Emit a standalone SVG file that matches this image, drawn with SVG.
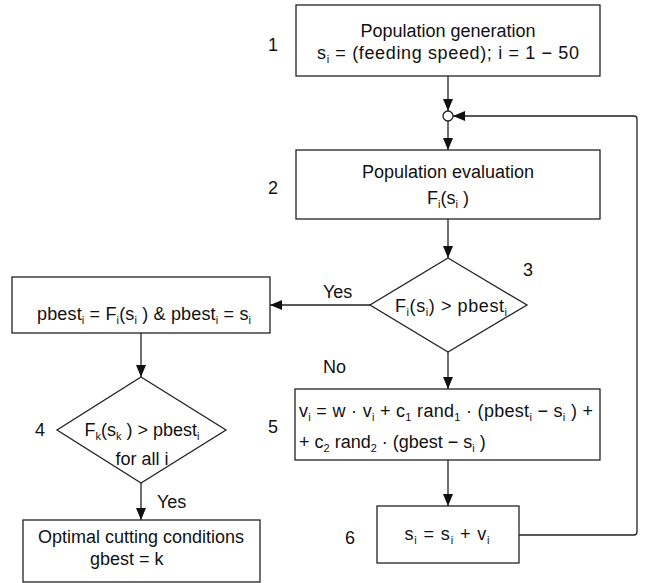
<svg xmlns="http://www.w3.org/2000/svg" width="646" height="583" viewBox="0 0 646 583">
<style>
.box{fill:#fff;stroke:#222;stroke-width:1.3}
.t{font-family:"Liberation Sans",Arial,sans-serif;font-size:18px;fill:#111}
.m{text-anchor:middle}
.s{font-size:11px}
.c{fill:none;stroke:#222;stroke-width:1.3}
</style>
<defs>
<marker id="ah" viewBox="0 0 12 10" refX="12" refY="5" markerWidth="12" markerHeight="10" markerUnits="userSpaceOnUse" orient="auto">
<path d="M0,0 L12,5 L0,10 z" fill="#111"/>
</marker>
</defs>
<rect width="646" height="583" fill="#fff"/>

<g id="connectors">
<line class="c" x1="448" y1="76" x2="448" y2="111" marker-end="url(#ah)"/>
<line class="c" x1="448" y1="121" x2="448" y2="150" marker-end="url(#ah)"/>
<line class="c" x1="448" y1="219" x2="448" y2="258" marker-end="url(#ah)"/>
<line class="c" x1="370" y1="305" x2="270" y2="305" marker-end="url(#ah)"/>
<line class="c" x1="448" y1="352" x2="448" y2="389" marker-end="url(#ah)"/>
<line class="c" x1="141" y1="333" x2="141" y2="377" marker-end="url(#ah)"/>
<line class="c" x1="141" y1="483" x2="141" y2="520" marker-end="url(#ah)"/>
<line class="c" x1="448" y1="460" x2="448" y2="506" marker-end="url(#ah)"/>
<path class="c" d="M519,535 H634 Q637,535 637,532 V119 Q637,116 634,116 H453" marker-end="url(#ah)"/>
<text class="t" x="323" y="298">Yes</text>
<text class="t" x="323" y="373">No</text>
<text class="t" x="157" y="508">Yes</text>
</g>

<g id="junction">
<circle cx="448" cy="116" r="5" fill="#fff" stroke="#222" stroke-width="1.3"/>
</g>

<g id="n1">
<rect class="box" x="296" y="5" width="304" height="71"/>
<text class="t m" x="448" y="37">Population generation</text>
<text class="t m" x="448" y="59" textLength="262" lengthAdjust="spacing">s<tspan class="s" dy="4">i</tspan><tspan dy="-4"> = (feeding speed); i = 1 − 50</tspan></text>
<text class="t" x="268" y="51">1</text>
</g>

<g id="n2">
<rect class="box" x="296" y="150" width="304" height="69"/>
<text class="t m" x="448" y="178">Population evaluation</text>
<text class="t m" x="448" y="204">F<tspan class="s" dy="4">i</tspan><tspan dy="-4">(s</tspan><tspan class="s" dy="4">i</tspan><tspan dy="-4"> )</tspan></text>
<text class="t" x="268" y="194">2</text>
</g>

<g id="n3">
<polygon class="box" points="448,258 527,305 448,352 370,305"/>
<text class="t m" x="451" y="312" textLength="112" lengthAdjust="spacing">F<tspan class="s" dy="4">i</tspan><tspan dy="-4">(s</tspan><tspan class="s" dy="4">i</tspan><tspan dy="-4">) &gt; pbest</tspan><tspan class="s" dy="4">i</tspan></text>
<text class="t" x="523" y="276">3</text>
</g>

<g id="n_pbest">
<rect class="box" x="12" y="277" width="258" height="56"/>
<text class="t m" x="144" y="320" textLength="214" lengthAdjust="spacing">pbest<tspan class="s" dy="4">i</tspan><tspan dy="-4"> = F</tspan><tspan class="s" dy="4">i</tspan><tspan dy="-4">(s</tspan><tspan class="s" dy="4">i</tspan><tspan dy="-4"> ) &amp; pbest</tspan><tspan class="s" dy="4">i</tspan><tspan dy="-4"> = s</tspan><tspan class="s" dy="4">i</tspan></text>
</g>

<g id="n4">
<polygon class="box" points="141,377 226,430 141,483 57,430"/>
<text class="t m" x="142" y="436">F<tspan class="s" dy="4">k</tspan><tspan dy="-4">(s</tspan><tspan class="s" dy="4">k</tspan><tspan dy="-4"> ) &gt; pbest</tspan><tspan class="s" dy="4">i</tspan></text>
<text class="t m" x="142" y="465">for all i</text>
<text class="t" x="35" y="436">4</text>
</g>

<g id="n5">
<rect class="box" x="295" y="389" width="305" height="71"/>
<text class="t" x="299" y="417" textLength="294" lengthAdjust="spacing">v<tspan class="s" dy="4">i</tspan><tspan dy="-4"> = w · v</tspan><tspan class="s" dy="4">i</tspan><tspan dy="-4"> + c</tspan><tspan class="s" dy="4">1</tspan><tspan dy="-4"> rand</tspan><tspan class="s" dy="4">1</tspan><tspan dy="-4"> · (pbest</tspan><tspan class="s" dy="4">i</tspan><tspan dy="-4"> − s</tspan><tspan class="s" dy="4">i</tspan><tspan dy="-4">  ) +</tspan></text>
<text class="t" x="299" y="448">+ c<tspan class="s" dy="4">2</tspan><tspan dy="-4"> rand</tspan><tspan class="s" dy="4">2</tspan><tspan dy="-4"> · (gbest − s</tspan><tspan class="s" dy="4">i</tspan><tspan dy="-4"> )</tspan></text>
<text class="t" x="268" y="433">5</text>
</g>

<g id="n6">
<rect class="box" x="377" y="506" width="142" height="57"/>
<text class="t m" x="447" y="540" textLength="85" lengthAdjust="spacing">s<tspan class="s" dy="4">i</tspan><tspan dy="-4"> = s</tspan><tspan class="s" dy="4">i</tspan><tspan dy="-4"> + v</tspan><tspan class="s" dy="4">i</tspan></text>
<text class="t" x="345" y="544">6</text>
</g>

<g id="n7">
<rect class="box" x="23" y="520" width="237" height="62"/>
<text class="t m" x="141" y="543">Optimal cutting conditions</text>
<text class="t" x="90" y="565">gbest = k</text>
</g>
</svg>
